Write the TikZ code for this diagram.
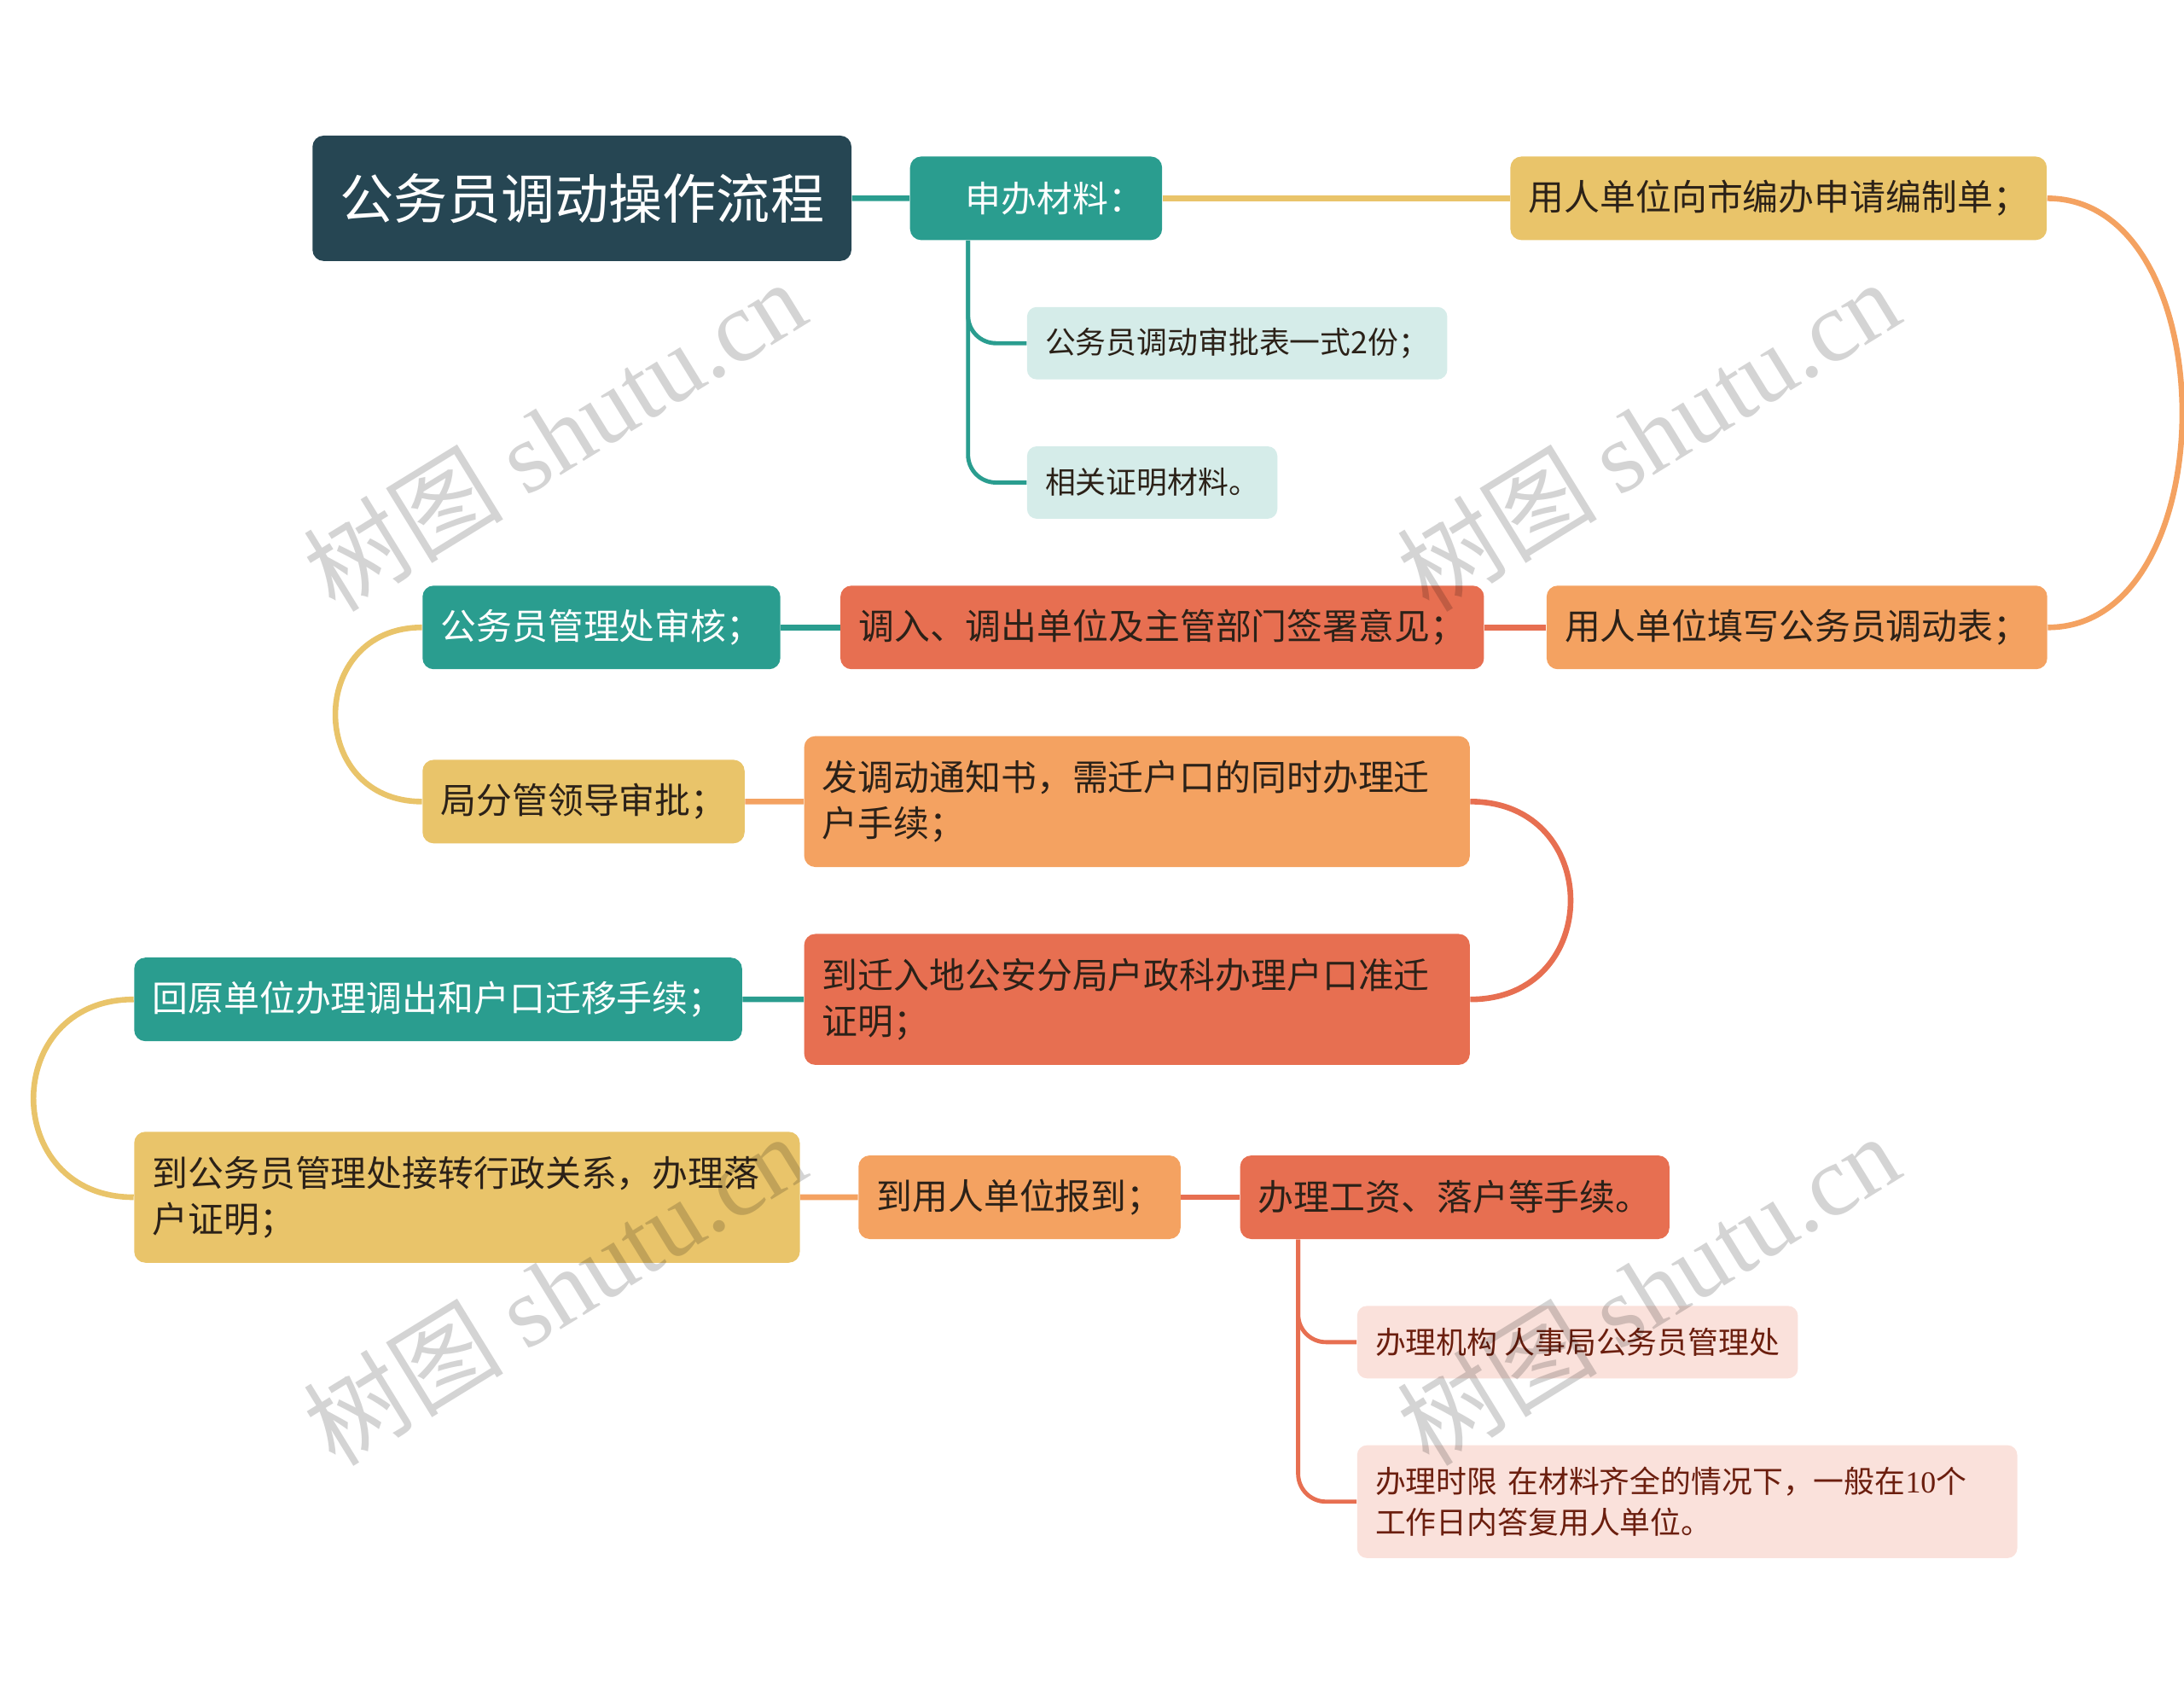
\documentclass[tikz,border=0pt]{standalone}
\usepackage{fontspec}
\setmainfont{Noto Sans CJK SC}
\newfontfamily\numfont{Liberation Serif}
\usetikzlibrary{positioning}

\definecolor{cdark}{HTML}{264653}
\definecolor{cteal}{HTML}{2A9D8F}
\definecolor{cyellow}{HTML}{E9C46A}
\definecolor{corange}{HTML}{F4A261}
\definecolor{cred}{HTML}{E76F51}
\definecolor{clteal}{HTML}{D5ECE9}
\definecolor{clpink}{HTML}{FAE1DB}
\definecolor{ctext}{HTML}{2B2118}
\definecolor{cbrown}{HTML}{6B1E0E}

\tikzset{
  box/.style={rounded corners=0.16cm, anchor=north west, inner xsep=0.26cm, inner ysep=0pt,
    minimum height=1.2cm, font=\fontsize{14.6}{18.7}\selectfont},
  subbox/.style={box, rounded corners=0.14cm, minimum height=1.04cm, font=\fontsize{12.5}{16.4}\selectfont},
  tealbox/.style={box, fill=cteal, text=white},
  yellowbox/.style={box, fill=cyellow, text=ctext},
  orangebox/.style={box, fill=corange, text=ctext},
  redbox/.style={box, fill=cred, text=ctext},
  link/.style={line width=2.3pt},
  sublink/.style={line width=1.7pt, rounded corners=0.4cm},
  wmark/.style={rotate=31.6, text=black, text opacity=0.17, font=\fontsize{41}{48}\selectfont}
}

\begin{document}
\begin{tikzpicture}[x=0.02cm, y=-0.02cm]
\useasboundingbox (0,0) rectangle (1568,1214.6);

% title and first branch
\node[box, fill=cdark, text=white, minimum width=7.74cm, minimum height=1.8cm,
  font=\fontsize{22}{26}\selectfont] (title) at (224,97) {公务员调动操作流程};
\node[tealbox, text width=3.1cm, align=right] (apply) at (653,112) {申办材料：};
\node[subbox, fill=clteal, text=ctext] (form) at (737,220) {公务员调动审批表一式2份；};
\node[subbox, fill=clteal, text=ctext] (proof) at (737,320) {相关证明材料。};

% the chain
\node[yellowbox] (quota) at (1084,112) {用人单位向市编办申请编制单；};
\node[orangebox] (fill) at (1110,420) {用人单位填写公务员调动表；};
\node[redbox] (sign) at (603,420) {调入、调出单位及主管部门签署意见；};
\node[tealbox] (check) at (303,420) {公务员管理处审核；};
\node[yellowbox] (leader) at (303,545) {局分管领导审批；};
\node[orangebox, minimum height=1.88cm, text width=9.04cm, align=left] (notice) at (577,528)
  {发调动通知书，需迁户口的同时办理迁\\户手续；};
\node[redbox, minimum height=1.88cm, text width=9.04cm, align=left] (permit) at (577,670)
  {到迁入地公安分局户政科办理户口准迁\\证明；};
\node[tealbox] (back) at (96,687) {回原单位办理调出和户口迁移手续；};
\node[yellowbox, minimum height=1.88cm, text width=9.04cm, align=left] (transfer) at (96,812)
  {到公务员管理处接转行政关系，办理落\\户证明；};
\node[orangebox] (report) at (616,829) {到用人单位报到；};
\node[redbox] (wage) at (890,829) {办理工资、落户等手续。};
\node[subbox, fill=clpink, text=cbrown] (agency) at (974,937) {办理机构 人事局公务员管理处};
\node[subbox, fill=clpink, text=cbrown, minimum height=1.62cm, text width=8.96cm, align=left] (period) at (974,1037)
  {办理时限 在材料齐全的情况下，一般在{\numfont 10}个\\工作日内答复用人单位。};

% connectors
\draw[link, cteal] (title) -- (apply);
\draw[link, cyellow] (apply) -- (quota);
\draw[sublink, cteal] ([xshift=0.84cm]apply.south west) |- (form.west);
\draw[sublink, cteal] ([xshift=0.84cm]apply.south west) |- (proof.west);
\draw[link, corange] (quota.east) .. controls +(129,0) and +(129,0) .. (fill.east);
\draw[link, cred] (fill) -- (sign);
\draw[link, cteal] (sign) -- (check);
\draw[link, cyellow] (check.west) .. controls +(-83,0) and +(-83,0) .. (leader.west);
\draw[link, corange] (leader) -- (notice);
\draw[link, cred] (notice.east) .. controls +(96,0) and +(96,0) .. (permit.east);
\draw[link, cteal] (permit) -- (back);
\draw[link, cyellow] (back.west) .. controls +(-96,0) and +(-96,0) .. (transfer.west);
\draw[link, corange] (transfer) -- (report);
\draw[link, cred] (report) -- (wage);
\draw[sublink, cred] ([xshift=0.84cm]wage.south west) |- (agency.west);
\draw[sublink, cred] ([xshift=0.84cm]wage.south west) |- (period.west);

% watermark
\node[wmark] (wm1) at (398,312) {树图 {\numfont shutu.cn}};
\node[wmark] (wm2) at (1183,312) {树图 {\numfont shutu.cn}};
\node[wmark] (wm3) at (398,925) {树图 {\numfont shutu.cn}};
\node[wmark] (wm4) at (1183,925) {树图 {\numfont shutu.cn}};
\end{tikzpicture}
\end{document}
